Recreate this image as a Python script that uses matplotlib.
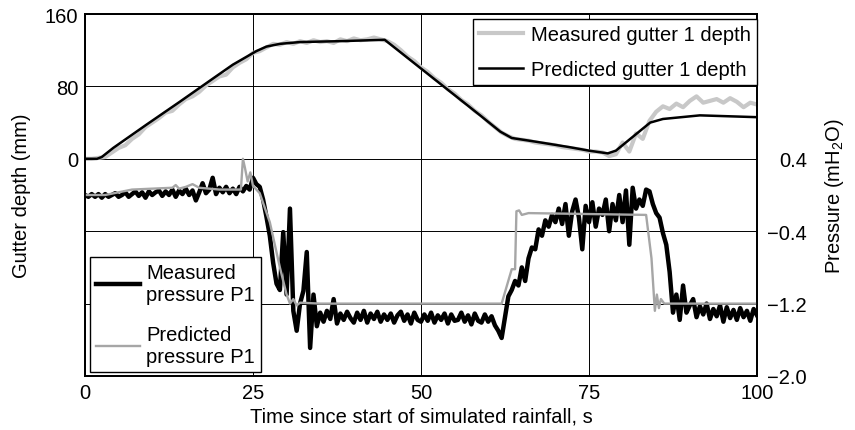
import matplotlib
matplotlib.use("Agg")
import matplotlib.pyplot as plt
import numpy as np

plt.rcParams['font.family'] = ['Liberation Sans', 'DejaVu Sans']
plt.rcParams['mathtext.default'] = 'regular'
plt.rcParams['font.size'] = 14.5

# gutter depth, mm
t_depth = np.arange(0, 101, 1)
depth_meas = [0, 0, 1, 2, 7, 12, 15, 22, 27, 35, 40, 45, 51, 53, 60, 66, 69, 74, 81, 86,
              91, 93, 101, 106, 110, 117, 119, 123, 127, 126, 129, 127, 130, 128, 131, 129,
              130, 128, 132, 130, 133, 131, 132, 134, 132, 130, 126, 120, 113, 108, 101,
              96, 89, 84, 77, 72, 65, 60, 53, 48, 41, 35, 29, 25, 22, 21, 20, 18, 17, 16,
              15, 13, 12, 11, 10, 8, 8, 7, 3, 5, 18, 8, 28, 22, 42, 52, 58, 55, 61, 57,
              64, 69, 62, 64, 66, 62, 67, 63, 57, 62, 60]

t_depth_pred = [0, 1.8, 2.5, 4.2, 9.2, 14.1, 19.1, 22, 24.1, 25.5, 27, 29, 32, 38, 44.6,
                58.8, 61.8, 63.5, 67, 72, 75, 77.8, 79, 84.1, 86, 91.5, 100]
depth_pred = [0, 0, 2, 12, 38, 63, 89, 104, 113, 119, 124, 127, 129, 130, 131.5,
              48, 30, 23, 19, 13, 9, 6, 9, 40, 44, 48, 46]

# pressure P1, mH2O
t_press = np.arange(0, 100.01, 0.5)
press_meas = [0.00, -0.02, 0.01, -0.02, 0.01, -0.03, 0.01, -0.02, 0.00, 0.02, -0.02,
              0.00, 0.03, -0.02, 0.01, 0.04, -0.01, 0.03, -0.03, 0.04, 0.00,
              0.03, 0.05, -0.01, 0.04, 0.00, 0.06, -0.02, 0.05, 0.01, 0.07,
              0.00, 0.05, -0.06, 0.03, 0.13, 0.02, 0.06, 0.19, 0.01, 0.08,
              0.03, 0.09, 0.02, 0.07, 0.01, 0.09, 0.04, 0.10, 0.06, 0.19,
              0.12, 0.09, -0.05, -0.24, -0.45, -0.75, -0.98, -1.05, -0.41, -1.10,
              -0.15, -1.28, -1.50, -1.20, -1.06, -0.63, -1.69, -1.10, -1.45, -1.30,
              -1.40, -1.28, -1.37, -1.15, -1.42, -1.31, -1.38, -1.29, -1.36, -1.41,
              -1.30, -1.38, -1.28, -1.41, -1.31, -1.37, -1.29, -1.40, -1.32, -1.38,
              -1.31, -1.41, -1.33, -1.29, -1.39, -1.32, -1.42, -1.30, -1.38, -1.40,
              -1.32, -1.39, -1.30, -1.41, -1.33, -1.38, -1.31, -1.42, -1.32, -1.39,
              -1.38, -1.30, -1.40, -1.33, -1.43, -1.31, -1.39, -1.41, -1.32, -1.40,
              -1.34, -1.44, -1.50, -1.58, -1.35, -1.12, -1.05, -0.95, -1.00, -0.80,
              -0.95, -0.70, -0.58, -0.60, -0.38, -0.45, -0.28, -0.35, -0.22, -0.30,
              -0.15, -0.32, -0.10, -0.45, -0.18, -0.05, -0.25, -0.60, -0.12, -0.30,
              -0.08, -0.35, -0.15, -0.22, -0.05, -0.40, -0.10, -0.28, 0.00, -0.30,
              0.05, -0.55, 0.08, -0.15, -0.05, -0.12, 0.06, 0.04, -0.10, -0.20,
              -0.25, -0.42, -0.55, -0.85, -1.30, -1.10, -1.38, -1.00, -1.30, -1.22,
              -1.15, -1.35, -1.23, -1.32, -1.20, -1.37, -1.26, -1.34, -1.22, -1.40,
              -1.24, -1.36, -1.27, -1.38, -1.25, -1.35, -1.28, -1.39, -1.26, -1.33]

t_press_pred = [0, 3, 5, 7, 10, 13, 13.5, 14, 15, 16, 17, 20, 23.2, 23.5, 23.8, 24.2,
                24.6, 25, 26, 27.5, 29, 30, 30.5, 31, 31.5, 32, 35, 62, 63.5, 64, 64.2,
                64.6, 65, 66, 83.5, 84.3, 84.8, 85.1, 85.4, 85.7, 86.2, 100]
press_pred = [0.0, 0.0, 0.03, 0.06, 0.07, 0.08, 0.11, 0.07, 0.09, 0.12, 0.08, 0.06,
              0.06, 0.40, 0.30, 0.15, 0.25, 0.10, 0.02, -0.30, -0.80, -1.10, -1.20,
              -1.15, -1.22, -1.19, -1.20, -1.20, -0.82, -0.82, -0.18, -0.17, -0.22,
              -0.20, -0.22, -0.70, -1.28, -1.10, -1.25, -1.15, -1.20, -1.20]

x_ticks = [0, 25, 50, 75, 100]
depth_ticks = [-160, -80, 0, 80, 160]
depth_labels = ['', '', '0', '80', '160']
press_ticks = [0.4, -0.4, -1.2, -2.0]

fig = plt.figure(figsize=(8.55, 4.31), dpi=100)
ax = fig.add_axes([85 / 855, 54 / 431, 672 / 855, 362 / 431])
ax2 = ax.twinx()

l1, = ax.plot(t_depth, depth_meas, color='#c8c8c8', lw=3, solid_joinstyle='round',
              label='Measured gutter 1 depth')
l2, = ax.plot(t_depth_pred, depth_pred, color='black', lw=1.8,
              label='Predicted gutter 1 depth')
p1, = ax2.plot(t_press, press_meas, color='black', lw=3.2, label='Measured\npressure P1')
p2, = ax2.plot(t_press_pred, press_pred, color='#a6a6a6', lw=1.7,
               label='Predicted\npressure P1')

ax.set_xlim(0, 100)
ax.set_ylim(-240, 160)
ax2.set_ylim(-2.0, 2.0)
ax.set_xticks(x_ticks)
ax.set_yticks(depth_ticks)
ax.set_yticklabels(depth_labels)
ax2.set_yticks(press_ticks)
ax.grid(True, color='black', lw=0.7)
ax.tick_params(length=0, pad=5)
ax2.tick_params(length=0, pad=36)
for lab in ax2.get_yticklabels():
    lab.set_horizontalalignment('right')
for a in (ax, ax2):
    for s in a.spines.values():
        s.set_linewidth(1.3)

ax.set_xlabel('Time since start of simulated rainfall, s')
ax.set_ylabel('Gutter depth (mm)')
ax2.set_ylabel('Pressure (mH$_2$O)')
ax.xaxis.set_label_coords(0.5, -0.083)
ax.yaxis.set_label_coords(-0.08, 0.5)
ax2.yaxis.set_label_coords(1.098, 0.5)

leg1 = ax2.legend(handles=[l1, l2], loc='upper right', bbox_to_anchor=(1.0, 0.987),
                  fancybox=False, edgecolor='black', framealpha=1, handlelength=2.2,
                  borderaxespad=0.0, labelspacing=0.8, handletextpad=0.4, borderpad=0.3)
leg1.get_frame().set_linewidth(1.0)
ax2.add_artist(leg1)
leg2 = ax2.legend(handles=[p1, p2], loc='lower left', bbox_to_anchor=(0.007, 0.012),
                  fancybox=False, edgecolor='black', framealpha=1, handlelength=2.2,
                  borderaxespad=0.0, labelspacing=1.0, handletextpad=0.3, borderpad=0.3)
leg2.get_frame().set_linewidth(1.0)

fig.savefig('out.png', dpi=100)
